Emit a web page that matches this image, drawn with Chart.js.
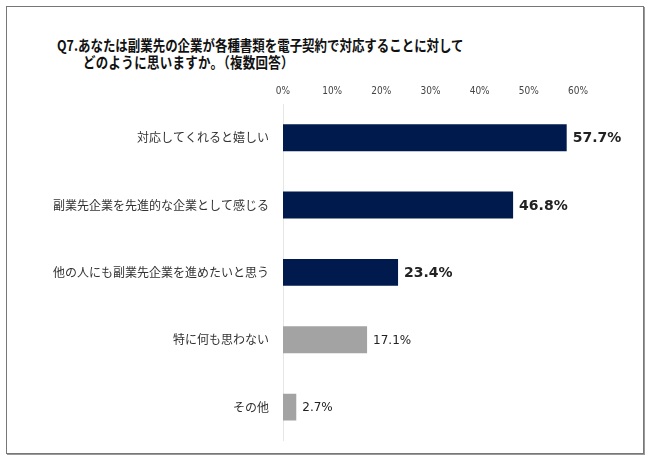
<!DOCTYPE html>
<html>
<head>
<meta charset="utf-8">
<script src="https://cdn.jsdelivr.net/npm/chart.js@4"></script>
<style>
  body { margin: 0; background: #fff; }
  .wrap { position: relative; width: 650px; height: 462px; }
  .frame {
    position: absolute; left: 6px; top: 6px; width: 636px; height: 446px;
    border: 1px solid #777; box-shadow: 1px 1px 0 #999;
  }
  .title {
    position: absolute;
    font-family: "Noto Sans CJK JP", sans-serif; font-weight: bold;
    font-size: 15px; line-height: 17px; color: #111;
    transform: scaleX(0.83); transform-origin: left top; white-space: nowrap;
  }
  .t1 { left: 57px; top: 36px; }
  .t2 { left: 83px; top: 53px; letter-spacing: 0.4px; }
  canvas { position: absolute; left: 0; top: 0; }
</style>
</head>
<body>
<div class="wrap">
  <div class="frame"></div>
  <div class="title t1">Q7.あなたは副業先の企業が各種書類を電子契約で対応することに対して</div>
  <div class="title t2">どのように思いますか。（複数回答）</div>
  <canvas id="myChart" width="650" height="462"></canvas>
</div>
<script>
const categories = ['対応してくれると嬉しい', '副業先企業を先進的な企業として感じる', '他の人にも副業先企業を進めたいと思う', '特に何も思わない', 'その他']
const values = [57.7, 46.8, 23.4, 17.1, 2.7]
const bar_colors = ['#001a4e', '#001a4e', '#001a4e', '#a3a3a3', '#a3a3a3']
const label_bold = [true, true, true, false, false]
const tick_values = [0, 10, 20, 30, 40, 50, 60]

// value labels next to each bar
const value_labels = {
    id: 'valueLabels',
    afterDatasetsDraw(chart) {
        const ctx = chart.ctx
        const meta = chart.getDatasetMeta(0)
        ctx.save()
        ctx.textBaseline = 'middle'
        ctx.fillStyle = '#222'
        meta.data.forEach((bar, i) => {
            ctx.font = label_bold[i] ? 'bold 14px "DejaVu Sans"' : '12px "DejaVu Sans"'
            ctx.fillText(values[i].toFixed(1) + '%', bar.x + 6, bar.y + 1)
        })
        ctx.restore()
    }
}

const ctx = document.getElementById('myChart')

new Chart(ctx, {
    type: 'bar',
    data: {
        labels: categories,
        datasets: [{
            data: values,
            backgroundColor: bar_colors,
            borderWidth: 0,
            barPercentage: 0.4,
            categoryPercentage: 1
        }]
    },
    options: {
        indexAxis: 'y',
        responsive: false,
        animation: false,
        layout: { padding: { left: 0, right: 72, top: 0, bottom: 21 } },
        plugins: {
            legend: { display: false },
            tooltip: { enabled: false }
        },
        scales: {
            x: {
                position: 'top',
                min: 0,
                max: 60,
                afterBuildTicks: (s) => { s.ticks = tick_values.map(v => ({ value: v })) },
                afterFit: (s) => { s.height = 104 },
                grid: { display: false, drawTicks: false },
                border: { display: false },
                ticks: {
                    padding: 7,
                    color: '#444',
                    font: { family: '"Liberation Sans Narrow", "DejaVu Sans Condensed", sans-serif', size: 10 },
                    callback: (v) => v + '%'
                }
            },
            y: {
                afterFit: (s) => { s.width = 283 },
                grid: { display: false, drawTicks: false },
                border: { display: true, color: '#e6e6e6', width: 1 },
                ticks: {
                    padding: 14,
                    color: '#333',
                    font: { family: '"Noto Sans CJK JP", sans-serif', size: 12 }
                }
            }
        }
    },
    plugins: [value_labels]
})
</script>
</body>
</html>
